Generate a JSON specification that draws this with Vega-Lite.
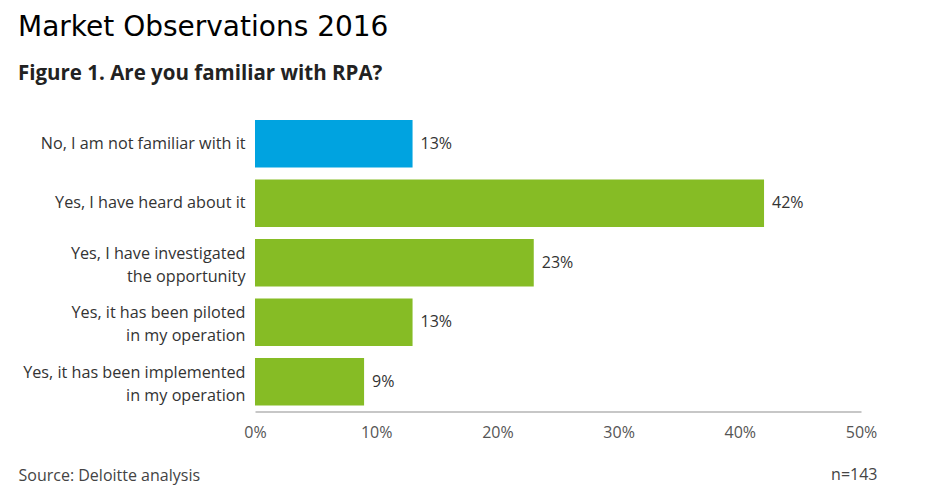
{
  "$schema": "https://vega.github.io/schema/vega-lite/v6.json",
  "width": 606,
  "height": 297.5,
  "autosize": {"type": "none"},
  "padding": {"left": 255, "top": 114, "right": 69, "bottom": 89.5},
  "background": "white",
  "title": {
    "text": "Market Observations 2016",
    "subtitle": "Figure 1. Are you familiar with RPA?",
    "anchor": "start",
    "frame": "group",
    "dx": -237,
    "offset": 30,
    "font": "DejaVu Sans",
    "fontSize": 28,
    "fontWeight": "normal",
    "color": "#000000",
    "subtitleFont": "Open Sans",
    "subtitleFontSize": 20.5,
    "subtitleFontWeight": "bold",
    "subtitleColor": "#222222",
    "subtitlePadding": 22
  },
  "data": {
    "values": [
      {"answer": "No, I am not familiar with it", "pct": 0.13, "group": "no"},
      {"answer": "Yes, I have heard about it", "pct": 0.42, "group": "yes"},
      {"answer": "Yes, I have investigated|the opportunity", "pct": 0.23, "group": "yes"},
      {"answer": "Yes, it has been piloted|in my operation", "pct": 0.13, "group": "yes"},
      {"answer": "Yes, it has been implemented|in my operation", "pct": 0.09, "group": "yes"}
    ]
  },
  "encoding": {
    "y": {
      "field": "answer",
      "type": "nominal",
      "sort": null,
      "scale": {"paddingInner": 0.2, "paddingOuter": 0.1},
      "axis": {
        "labelExpr": "split(datum.label, '|')",
        "labelFont": "Open Sans",
        "labelFontSize": 16.2,
        "labelColor": "#333333",
        "labelLineHeight": 23,
        "labelOffset": {"condition": {"test": "indexof(datum.value, '|') >= 0", "value": -9}, "value": 0},
        "labelPadding": 10,
        "labelLimit": 400,
        "domain": false,
        "ticks": false,
        "title": "n=143",
        "titleAngle": 0,
        "titleX": 622,
        "titleY": 365,
        "titleAlign": "right",
        "titleBaseline": "alphabetic",
        "titleFont": "Open Sans",
        "titleFontSize": 16,
        "titleFontWeight": "normal",
        "titleColor": "#444444"
      }
    },
    "x": {
      "field": "pct",
      "type": "quantitative",
      "scale": {"domain": [0, 0.5], "nice": false},
      "axis": {
        "values": [0, 0.1, 0.2, 0.3, 0.4, 0.5],
        "format": ".0%",
        "grid": false,
        "ticks": false,
        "labelFlush": false,
        "domainColor": "#b5b5b5",
        "domainWidth": 1.5,
        "labelFont": "Open Sans",
        "labelFontSize": 16,
        "labelColor": "#555555",
        "labelPadding": 13,
        "title": "Source: Deloitte analysis",
        "titleX": -237,
        "titleY": 68.5,
        "titleAlign": "left",
        "titleAnchor": "start",
        "titleBaseline": "alphabetic",
        "titleFont": "Open Sans",
        "titleFontSize": 16,
        "titleFontWeight": "normal",
        "titleColor": "#444444"
      }
    }
  },
  "layer": [
    {
      "mark": {"type": "bar"},
      "encoding": {
        "color": {
          "field": "group",
          "type": "nominal",
          "scale": {"domain": ["no", "yes"], "range": ["#00A3E0", "#86BC25"]},
          "legend": null
        }
      }
    },
    {
      "mark": {"type": "text", "align": "left", "baseline": "middle", "dx": 8, "font": "Open Sans", "fontSize": 16, "color": "#333333"},
      "encoding": {
        "text": {"field": "pct", "type": "quantitative", "format": ".0%"}
      }
    }
  ],
  "config": {"view": {"stroke": null}}
}
